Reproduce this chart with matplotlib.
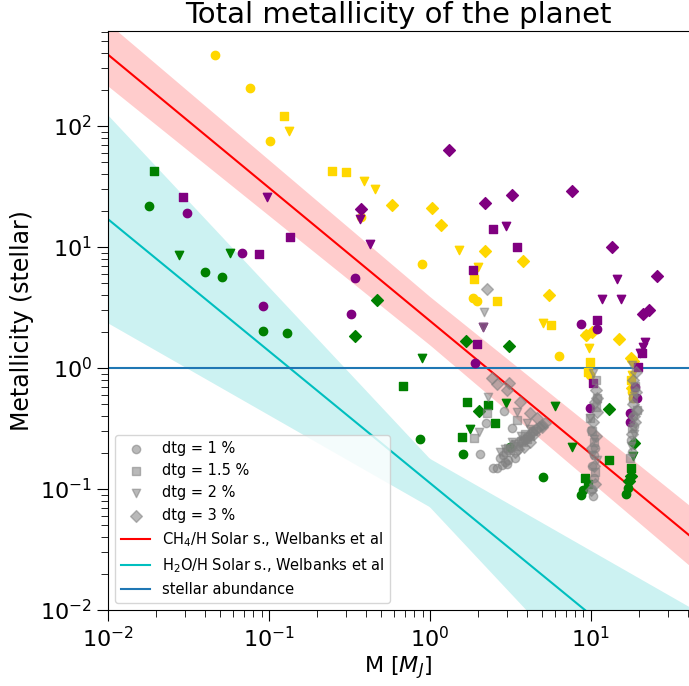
import numpy as np
import matplotlib
matplotlib.use("Agg")
import matplotlib.pyplot as plt

# planet mass [M_J] and metallicity (stellar units), split by colour and dust-to-gas marker
gold_o_m = [0.0462, 0.0762, 0.101, 0.373, 0.891, 1.85, 1.96, 6.33, 9.86, 18.0, 18.2]
gold_o_z = [386, 206, 75.2, 17.7, 7.24, 3.79, 3.58, 1.26, 0.875, 0.634, 0.565]
gold_s_m = [0.124, 0.246, 0.300, 1.875, 2.61, 5.65, 9.86, 9.58, 17.7]
gold_s_z = [121, 42.5, 41.7, 5.44, 3.58, 2.26, 1.12, 0.927, 0.796]
gold_v_m = [0.133, 0.389, 0.455, 1.51, 1.99, 5.03, 9.44, 9.72, 18.0]
gold_v_z = [91, 35.1, 30.1, 9.44, 6.84, 2.35, 1.84, 1.46, 0.875]
gold_d_m = [0.581, 1.03, 1.17, 2.20, 3.78, 5.48, 10.1, 9.31, 14.9, 18.2, 17.8, 18.0]
gold_d_z = [22.2, 21.0, 15.2, 9.27, 7.66, 4.01, 1.99, 1.87, 1.74, 1.14, 1.20, 0.684]

purple_o_m = [0.031, 0.0679, 0.0918, 0.323, 0.342, 1.90, 8.67, 10.9, 9.86, 18.8, 19.3, 17.5, 17.5]
purple_o_z = [19.1, 8.91, 3.25, 2.79, 5.54, 1.10, 2.31, 2.10, 0.467, 0.697, 0.565, 0.425, 0.358]
purple_s_m = [0.0292, 0.0867, 0.135, 1.85, 2.46, 3.47, 1.96, 11.0, 10.3, 20.7, 19.6]
purple_s_z = [25.9, 8.75, 12.1, 6.46, 14.1, 10.0, 1.58, 2.49, 0.751, 1.33, 1.02]
purple_v_m = [0.0973, 0.367, 0.424, 2.96, 2.13, 14.5, 11.7, 15.4, 21.6, 21.0, 20.1]
purple_v_z = [25.9, 17.0, 10.6, 14.9, 2.18, 5.44, 3.72, 3.72, 1.64, 1.49, 1.33]
purple_d_m = [0.373, 1.31, 2.20, 3.23, 7.62, 13.5, 25.7, 21.0, 22.9]
purple_d_z = [20.6, 63.4, 23.1, 26.9, 29.0, 10.0, 5.75, 2.79, 3.01]

green_o_m = [0.018, 0.040, 0.051, 0.0918, 0.129, 0.867, 1.60, 5.03, 3.14, 8.91, 8.67, 17.0, 16.5]
green_o_z = [21.8, 6.21, 5.65, 2.02, 1.95, 0.259, 0.195, 0.126, 0.222, 0.098, 0.089, 0.102, 0.091]
green_s_m = [0.0193, 0.680, 1.70, 2.29, 2.53, 1.58, 9.18, 9.58, 12.9, 17.7]
green_s_z = [42.5, 0.710, 0.524, 0.494, 0.351, 0.269, 0.123, 0.110, 0.174, 0.149]
green_v_m = [0.0276, 0.0573, 0.891, 1.77, 2.96, 5.97, 7.62, 18.2]
green_v_z = [8.59, 8.91, 1.21, 0.313, 0.514, 0.485, 0.222, 0.188]
green_d_m = [0.469, 0.342, 1.67, 3.10, 2.01, 12.9, 18.5, 17.7, 17.2]
green_d_z = [3.65, 1.84, 1.67, 1.52, 0.442, 0.458, 0.240, 0.128, 0.116]

grey_o_m = [2.88, 2.23, 3.23, 2.05, 3.01, 2.61, 3.37, 2.46, 2.72, 2.84, 3.05, 2.80, 2.92,
            10.0, 10.6, 10.1, 10.4, 10.3, 10.2, 10.5, 18.2, 17.7, 18.0, 18.5]
grey_o_z = [0.442, 0.351, 0.319, 0.195, 0.161, 0.149, 0.180, 0.149, 0.180, 0.191, 0.174, 0.158, 0.167,
            0.307, 0.218, 0.155, 0.123, 0.0875, 0.100, 0.190, 0.401, 0.254, 0.202, 0.330]
grey_s_m = [2.26, 3.47, 1.88, 2.96, 3.14, 3.52, 3.78, 4.00, 3.89, 4.36, 3.05, 3.67, 4.18,
            10.7, 10.9, 9.86, 10.4, 10.6, 10.2, 10.8, 18.8, 19.3, 18.0, 17.5, 18.4]
grey_s_z = [0.425, 0.372, 0.264, 0.202, 0.210, 0.227, 0.244, 0.259, 0.285, 0.301, 0.218, 0.249, 0.274,
            0.796, 0.565, 0.386, 0.244, 0.138, 0.300, 0.480, 0.710, 0.450, 0.319, 0.180, 0.560]
grey_v_m = [2.29, 3.47, 4.00, 2.01, 2.16, 2.13, 2.92, 3.37, 3.67, 4.18, 2.72, 3.23,
            10.3, 9.86, 10.1, 10.9, 10.5, 18.0, 18.5, 17.7, 18.9]
grey_v_z = [0.575, 0.433, 0.351, 0.296, 2.90, 2.18, 0.214, 0.235, 0.274, 0.313, 0.202, 0.244,
            0.910, 0.386, 0.191, 0.174, 0.260, 1.06, 0.285, 0.227, 0.620]
grey_d_m = [2.43, 2.61, 3.10, 3.01, 3.62, 4.18, 4.62, 4.96, 2.26,
            3.23, 3.62, 4.06, 4.42, 4.55, 4.75, 4.96, 5.18, 3.84, 4.18, 3.37, 3.52, 3.89, 4.30,
            11.0, 10.6, 10.9, 10.3, 10.7, 10.1, 10.6, 10.0, 10.8, 10.4,
            19.0, 18.2, 19.0, 18.2, 19.3, 18.8, 18.0, 18.6]
grey_d_z = [0.826, 0.738, 0.751, 0.658, 0.524, 0.425, 0.386, 0.325, 4.50,
            0.227, 0.249, 0.269, 0.285, 0.313, 0.325, 0.338, 0.351, 0.222, 0.244, 0.202, 0.214, 0.259, 0.296,
            0.565, 0.524, 0.433, 0.358, 0.274, 0.218, 0.110, 0.098, 0.658, 0.155,
            0.927, 0.796, 0.634, 0.504, 0.450, 0.358, 0.285, 0.401]

# Welbanks et al. mass-metallicity fits: log Z = a log M + b
ch4_a, ch4_da, ch4_b, ch4_db = -1.10, 0.03, 0.39, 0.20
h2o_a, h2o_da, h2o_b, h2o_db = -1.09, 0.33, -0.95, 0.20


def band(logm, a, da, b, db):
    combos = [(a + s1 * da) * logm + b + s2 * db for s1 in (-1, 1) for s2 in (-1, 1)]
    return 10 ** (a * logm + b), 10 ** np.min(combos, axis=0), 10 ** np.max(combos, axis=0)


fig = plt.figure(figsize=(6.89, 6.86), dpi=100)
ax = fig.add_axes([0.1567, 0.1108, 0.8433, 0.844])

for col, sets in [("gold", [(gold_o_m, gold_o_z, "o"), (gold_s_m, gold_s_z, "s"),
                            (gold_v_m, gold_v_z, "v"), (gold_d_m, gold_d_z, "D")]),
                  ("purple", [(purple_o_m, purple_o_z, "o"), (purple_s_m, purple_s_z, "s"),
                              (purple_v_m, purple_v_z, "v"), (purple_d_m, purple_d_z, "D")]),
                  ("green", [(green_o_m, green_o_z, "o"), (green_s_m, green_s_z, "s"),
                             (green_v_m, green_v_z, "v"), (green_d_m, green_d_z, "D")])]:
    for m, z, mk in sets:
        ax.scatter(m, z, color=col, marker=mk, s=36, zorder=3)

ax.scatter(grey_o_m, grey_o_z, color="grey", alpha=0.55, marker="o", s=36, zorder=4, label="dtg = 1 %")
ax.scatter(grey_s_m, grey_s_z, color="grey", alpha=0.55, marker="s", s=36, zorder=4, label="dtg = 1.5 %")
ax.scatter(grey_v_m, grey_v_z, color="grey", alpha=0.55, marker="v", s=36, zorder=4, label="dtg = 2 %")
ax.scatter(grey_d_m, grey_d_z, color="grey", alpha=0.55, marker="D", s=36, zorder=4, label="dtg = 3 %")

logm = np.linspace(-2.2, 1.8, 400)
mass = 10 ** logm
mid, lo, hi = band(logm, ch4_a, ch4_da, ch4_b, ch4_db)
ax.plot(mass, mid, color="red", lw=1.5, zorder=2, label="CH$_4$/H Solar s., Welbanks et al")
ax.fill_between(mass, lo, hi, color="red", alpha=0.2, lw=0, zorder=1)
mid, lo, hi = band(logm, h2o_a, h2o_da, h2o_b, h2o_db)
ax.plot(mass, mid, color="c", lw=1.5, zorder=2, label="H$_2$O/H Solar s., Welbanks et al")
ax.fill_between(mass, lo, hi, color="c", alpha=0.2, lw=0, zorder=1)

ax.axhline(1, color="C0", lw=1.5, zorder=2, label="stellar abundance")

ax.set_xscale("log")
ax.set_yscale("log")
ax.set_xlim(1e-2, 10 ** 1.61)
ax.set_ylim(1e-2, 10 ** 2.785)
ax.spines["right"].set_visible(False)
ax.tick_params(which="major", direction="out", length=8, labelsize=16)
ax.tick_params(which="minor", direction="out", length=5)

ax.set_title("Total metallicity of the planet", fontsize=21)
ax.set_xlabel("M [$M_J$]", fontsize=16, labelpad=2)
ax.set_ylabel("Metallicity (stellar)", fontsize=17)
ax.legend(loc="lower left", fontsize=10.5)

fig.savefig("out.png", dpi=100)
